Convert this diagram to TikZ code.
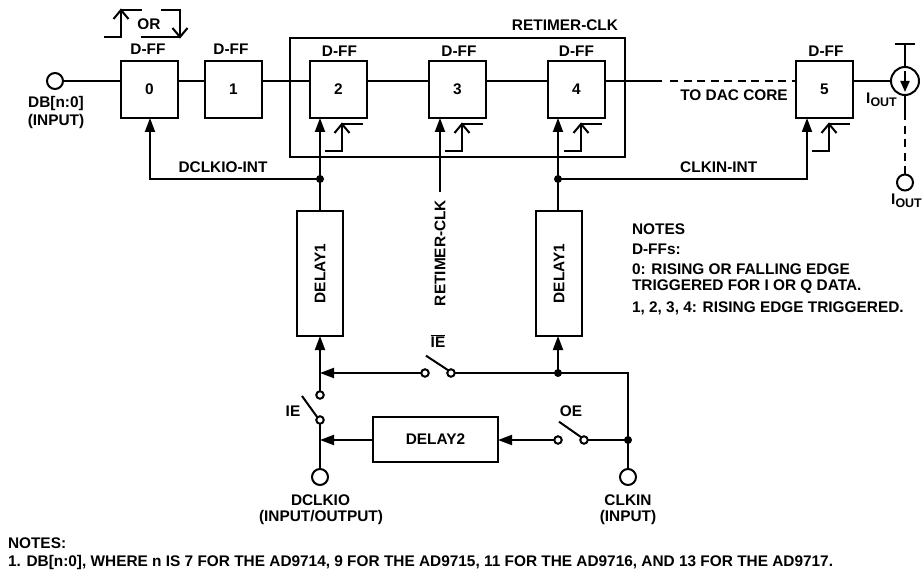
\documentclass[tikz,border=0pt]{standalone}
\usepackage{fontspec}
\setmainfont{Liberation Sans}
\usetikzlibrary{arrows.meta,calc}
\newcommand{\IOUT}{I\raisebox{-3.5pt}{\fontsize{12.5}{13}\selectfont OUT}}
\newcommand{\barIE}{\setbox0\hbox{IE}\rlap{\raisebox{11.6pt}{\rule{\wd0}{1.3pt}}}IE}
\tikzset{
  x=1bp,y=-1bp,
  every node/.style={font=\fontsize{15.45}{17}\selectfont\bfseries,inner sep=0pt,outer sep=0pt},
  wire/.style={line width=2bp},
  dashwire/.style={wire,dash pattern=on 8bp off 5.5bp},
  arr/.style={wire,-{Triangle[length=14bp,width=10bp]}},
  ff/.style={draw,line width=2bp,minimum width=57bp,minimum height=57bp},
  delaybox/.style={draw,line width=2bp,minimum width=46bp,minimum height=125bp},
  port/.style={draw,circle,line width=2bp,minimum size=16bp},
  contact/.style={draw,circle,line width=2bp,minimum size=7.5bp},
  dot/.style={fill,circle,minimum size=8bp},
  edgeup/.pic={
    \draw[wire,line join=miter] (-17,27) -- (0,27) -- (0,0) -- (21,0);
    \draw[wire] (-7.5,9) -- (0,0) -- (7.5,9);
  }
}
\begin{document}
\begin{tikzpicture}
\useasboundingbox (0,0) rectangle (922,573);
% flip-flops
\node[ff] (b0) at (149.5,89.5) {0};
\node[ff] (b1) at (233.5,89.5) {1};
\node[ff] (b2) at (338.5,89.5) {2};
\node[ff] (b3) at (457.5,89.5) {3};
\node[ff] (b4) at (576.5,89.5) {4};
\node[ff] (b5) at (824.5,89.5) {5};
\node at (148,49) {D-FF};
\node at (231,49) {D-FF};
\node at (339.5,51) {D-FF};
\node at (459,51) {D-FF};
\node at (576.5,51) {D-FF};
\node at (826,51) {D-FF};
% retimer frame
\node[draw,line width=2bp,minimum width=335bp,minimum height=119bp] (ret) at (457.5,97.5) {};
\node at (565,25) {RETIMER-CLK};
% data path
\node[port] (in) at (55,81) {};
\node at (56,103.5) {DB[n:0]};
\node at (56,122) {(INPUT)};
\coordinate (dataend) at (662,81);
\draw[wire] (in.east) -- (in -| b0.west);
\draw[wire] (b0.east |- in) -- (b1.west |- in);
\draw[wire] (b1.east |- in) -- (b2.west |- in);
\draw[wire] (b2.east |- in) -- (b3.west |- in);
\draw[wire] (b3.east |- in) -- (b4.west |- in);
\draw[wire] (b4.east |- in) -- (dataend);
\draw[dashwire] (dataend) ++(8,0) coordinate (dashstart) -- (dashstart -| b5.west);
\node at (734,95.5) {TO DAC CORE};
% current source
\node[draw,circle,line width=2bp,minimum size=28bp] (src) at (905,81) {};
\coordinate (railL) at (895,44);
\coordinate (railR) at (915,44);
\coordinate (railM) at (905,44);
\coordinate (srcA) at (905,71);
\coordinate (srcB) at (905,92);
\coordinate (solidEnd) at (905,120);
\node[port] (iout) at (905,182.5) {};
\draw[wire] (b5.east |- in) -- (src.west);
\draw[wire] (railL) -- (railR);
\draw[wire] (railM) -- (src.north);
\draw[wire,-{Triangle[length=11bp,width=9bp]}] (srcA) -- (srcB);
\draw[wire] (src.south) -- (solidEnd);
\draw[dashwire] (solidEnd) ++(0,6) coordinate (dashB) -- (iout.north);
\node at (881.5,100) {\IOUT};
\node at (906.5,201) {\IOUT};
% edge symbols
\pic at (342,124) {edgeup};
\pic at (462,124) {edgeup};
\pic at (581,124) {edgeup};
\pic at (829,124) {edgeup};
\pic at (121,10) {edgeup};
\node at (149,24) {OR};
\coordinate (fa) at (161,10);
\coordinate (fb) at (180,10);
\coordinate (fc) at (180,37);
\coordinate (fd) at (141,37);
\coordinate (fe) at (172.5,28);
\coordinate (ff) at (187.5,28);
\draw[wire,line join=miter] (fa) -- (fb) -- (fc) -- (fd);
\draw[wire] (fe) -- (fc) -- (ff);
% delays
\node[delaybox] (d1a) at (320,273.5) {\rotatebox{90}{DELAY1}};
\node[delaybox] (d1b) at (559,273.5) {\rotatebox{90}{DELAY1}};
\node[draw,line width=2bp,minimum width=125bp,minimum height=45bp] (d2) at (435.5,439.5) {DELAY2};
% clock distribution
\node[dot] (ja) at (320,179) {};
\node[dot] (jb) at (558,179) {};
\coordinate (c0) at (150,179);
\coordinate (c5) at (807,179);
\draw[arr] (ja.center) -- (ja |- b2.south);
\draw[arr] (jb.center) -- (jb |- b4.south);
\draw[wire] (ja.center) -- (d1a.north -| ja);
\draw[wire] (jb.center) -- (d1b.north -| jb);
\draw[arr,line join=miter] (ja.center) -- (c0) -- (c0 |- b0.south);
\draw[arr,line join=miter] (jb.center) -- (c5) -- (c5 |- b5.south);
\node at (223,167) {DCLKIO-INT};
\node at (718.7,167) {CLKIN-INT};
% retimer clock
\coordinate (rc) at (440,192.5);
\draw[arr] (rc) -- (rc |- b3.south);
\node[rotate=90] at (440,253) {RETIMER-CLK};
% switches and lower network
\node[contact] (s1a) at (320,395) {};
\node[contact] (s1b) at (320,420) {};
\node[contact] (s2a) at (425,373) {};
\node[contact] (s2b) at (451,373) {};
\node[contact] (s3a) at (558,440) {};
\node[contact] (s3b) at (584,440) {};
\node[port] (dclk) at (320,477) {};
\node[port] (clk) at (628,477) {};
\node[dot] (j3) at (558,373) {};
\node[dot] (j4) at (628,440) {};
\coordinate (corner) at (628,373);
\coordinate (j5) at (320,373);
\coordinate (j6) at (320,440);
\draw[arr] (s1a.north) -- (s1a |- d1a.south);
\draw[arr] (j3.center) -- (j3 |- d1b.south);
\draw[arr] (s2a.west) -- (j5);
\draw[wire,line join=miter] (s2b.east) -- (corner) -- (clk.north);
\draw[wire] (s3b.east) -- (j4.center);
\draw[arr] (s3a.west) -- (s3a -| d2.east);
\draw[arr] (d2.west |- j6) -- (j6);
\draw[wire] (s1b.south) -- (dclk.north);
% switch blades
\coordinate (bl1) at (302,396);
\coordinate (bl2) at (426,355.7);
\coordinate (bl3) at (559,421.7);
\draw[wire] (bl1) -- (s1b.north west);
\draw[wire] (bl2) -- (s2b.north west);
\draw[wire] (bl3) -- (s3b.north west);
\node at (293,411) {IE};
\node at (571,411) {OE};
\node at (438,341) {\barIE};
\node at (320.5,500) {DCLKIO};
\node at (321,518) {(INPUT/OUTPUT)};
\node at (628,500) {CLKIN};
\node at (628,518) {(INPUT)};
% side notes
\node[anchor=west] at (632,229) {NOTES};
\node[anchor=west] at (632,249) {D-FFs:};
\node[anchor=west] at (632,269) {0: RISING OR FALLING EDGE};
\node[anchor=west] at (632,287) {TRIGGERED FOR I OR Q DATA.};
\node[anchor=west] at (632,308) {1, 2, 3, 4: RISING EDGE TRIGGERED.};
% bottom notes
\node[anchor=west] at (8,543) {NOTES:};
\node[anchor=west] at (8,563) {1. DB[n:0], WHERE n IS 7 FOR THE AD9714, 9 FOR THE AD9715, 11 FOR THE AD9716, AND 13 FOR THE AD9717.};
\end{tikzpicture}
\end{document}
